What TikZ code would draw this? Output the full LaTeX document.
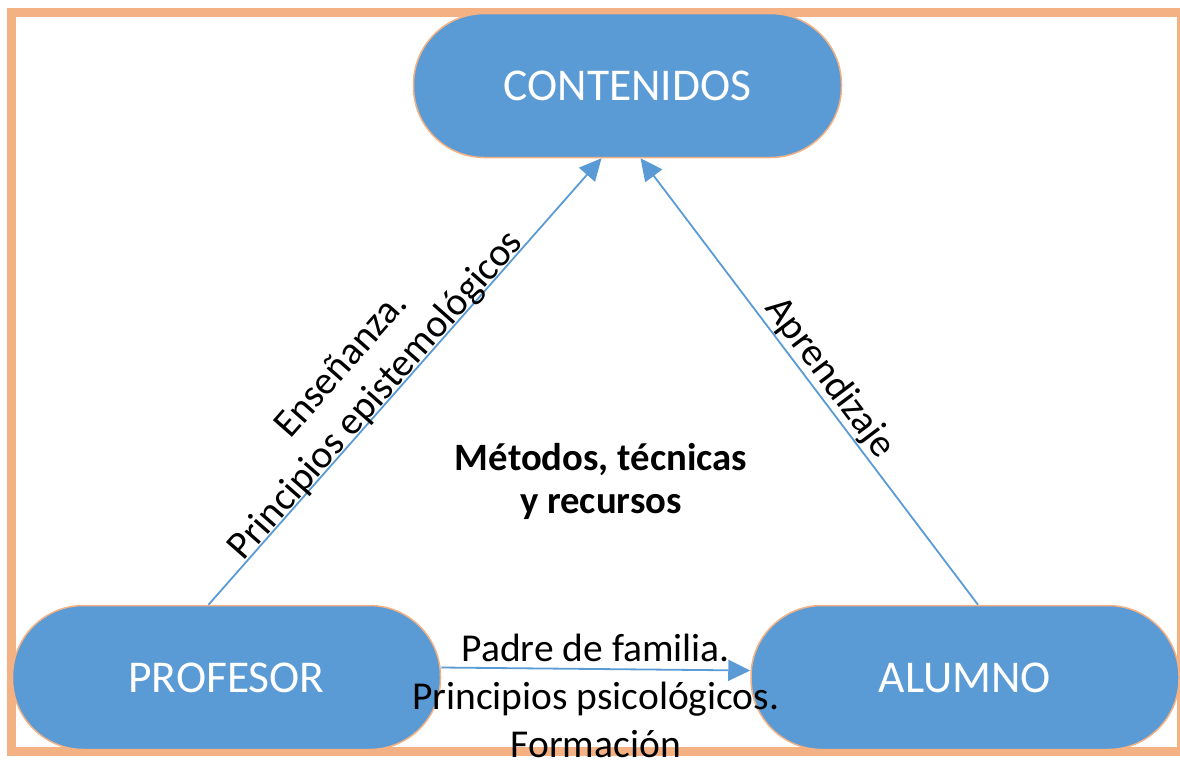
\documentclass[tikz,border=0pt]{standalone}
\usepackage{fontspec}
\setmainfont{Carlito}
\usepackage{tikz}
\usetikzlibrary{arrows.meta}
\usetikzlibrary{positioning}
\definecolor{pillblue}{HTML}{5B9BD5}
\definecolor{frameorange}{HTML}{F4B183}
\tikzset{
    actor/.style={
           rectangle,
           rounded corners=71pt,
           fill=pillblue,
           draw=frameorange, line width=1.5pt,
           minimum width=428pt,
           minimum height=144pt,
           text=white,
           font=\fontsize{45.5}{54}\selectfont,
           },
    link/.style={
           draw=pillblue, line width=1.8pt,
           },
    linklabel/.style={
           align=center,
           inner sep=0pt,
           font=\fontsize{39.5}{46}\selectfont,
           },
}

\begin{document}
\begin{tikzpicture}[x=1pt,y=-1pt,->,>={Triangle[length=22pt,width=21pt]}]

 \useasboundingbox (0,0) rectangle (1180,764);
 \draw[-,frameorange,line width=9pt] (11.5,12.5) rectangle (1181.5,751.5);

 \node[actor] (C) at (627.5,85.5) {CONTENIDOS};
 \node[actor] (P) at (226.5,677.5) {PROFESOR};
 \node[actor] (A) at (965,677.5) {ALUMNO};

 \draw[link] ([xshift=-18pt]P.north) --
   node[linklabel, pos=0.45, sloped, anchor=south, yshift=-6pt] (ensl)
   {Enseñanza.\\Principios epistemológicos} ([xshift=-26pt]C.south);
 \draw[link] ([xshift=13pt]A.north) --
   node[linklabel, pos=0.483, sloped, anchor=base, yshift=8pt] (apl)
   {Aprendizaje} ([xshift=13pt]C.south);
 \draw[link] ([yshift=10pt]P.east) --
   node[linklabel, midway, yshift=-27pt, font=\fontsize{39.5}{48}\selectfont] (famlabel)
   {Padre de familia.\\Principios psicológicos.\\Formación} ([yshift=7pt]A.west);

 \node[linklabel, font=\bfseries\fontsize{38.7}{43}\selectfont] (mtr) at (601,481)
   {Métodos, técnicas\\y recursos};

\end{tikzpicture}
\end{document}
